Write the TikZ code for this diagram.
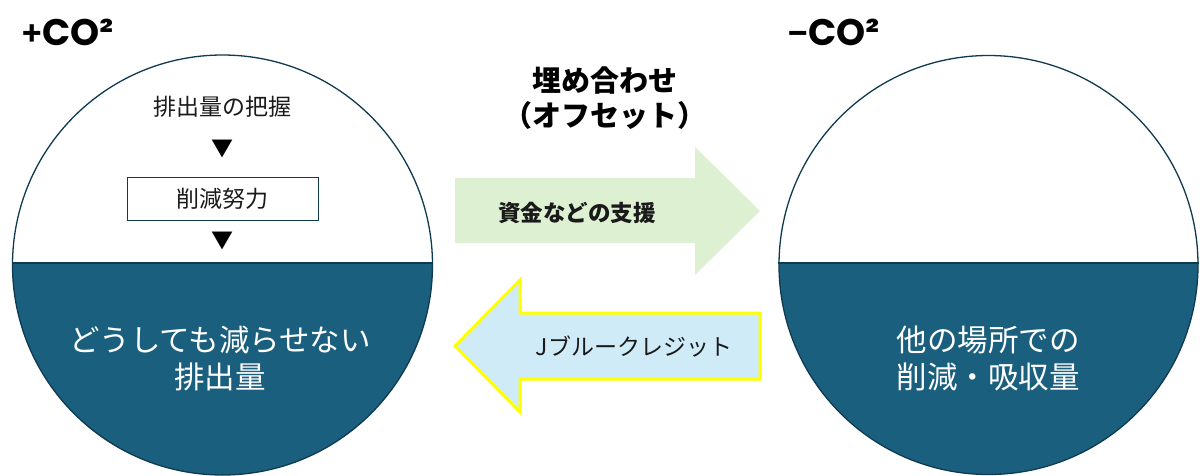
\documentclass[tikz,border=0pt]{standalone}
\usepackage{fontspec}
\setmainfont{Noto Sans CJK JP}
\newfontfamily\jp{Noto Sans CJK JP}
\newfontfamily\pop{Poppins}
\definecolor{darkteal}{HTML}{1B5F7E}
\definecolor{rimcol}{HTML}{0F3A50}
\definecolor{greenarr}{HTML}{DDF1D2}
\definecolor{bluearr}{HTML}{CFEBF8}
\definecolor{yellowrim}{HTML}{FFFF00}
\definecolor{txt}{HTML}{1A1A1A}
\begin{document}
\begin{tikzpicture}[x=1pt,y=-1pt,
  ball/.style={circle,minimum size=420pt,inner sep=0pt,draw=rimcol,line width=1.3pt},
  lab/.style={font=\jp\fontsize{23}{26}\selectfont,text=txt,inner sep=0pt},
  wlab/.style={font=\jp\fontsize{30.5}{37}\selectfont,text=white,align=center,inner sep=0pt},
  co/.style={font=\pop\bfseries\fontsize{37}{40}\selectfont,text=black,inner sep=0pt},
  tri/.style={font=\jp\fontsize{22}{22}\selectfont,inner sep=0pt,text=black},
  titl/.style={font=\jp\bfseries\fontsize{29}{35}\selectfont,align=center,inner sep=0pt}]
\useasboundingbox (0,0) rectangle (1200,475);
\fill[white] (0,0) rectangle (1200,475);
% dark lower halves
\begin{scope}
\clip (0,263) rectangle (1200,480);
\fill[darkteal] (222.5,265) circle (210);
\fill[darkteal] (988.5,265) circle (209.5);
\end{scope}
\node[ball] (L) at (222.5,265) {};
\node[ball,minimum size=419pt] (R) at (988.5,265) {};
\draw[rimcol,line width=1.3pt] (L.west |- 0,263) coordinate (la) -- (L.east |- 0,263) coordinate (lb);
\draw[rimcol,line width=1.3pt] (R.west |- 0,263) coordinate (ra) -- (R.east |- 0,263) coordinate (rb);
% labels
\node[co,anchor=west] (pco) at (22,32) {{\jp\fontsize{32}{32}\selectfont +}\hspace{1pt}CO²};
\node[co,anchor=west] (mco) at (788,32) {{\jp\fontsize{32}{32}\selectfont −}\hspace{1pt}CO²};
\node[lab] (t1) at (222,107) {排出量の把握};
\node[tri] (a1) at (222,149) {▼};
\node[lab,draw=rimcol,line width=1pt,minimum width=191pt,minimum height=43pt] (box) at (222.5,198.5) {削減努力};
\node[tri] (a2) at (222,241) {▼};
\node[wlab] (lt) at (220,358) {どうしても減らせない\\排出量};
\node[wlab] (rt) at (988,358) {他の場所での\\削減・吸収量};
\node[titl] (mid) at (605,98) {埋め合わせ\\（オフセット）};
% green arrow
\fill[greenarr] (455,178) -- (695,178) -- (695,147) -- (760,211) -- (695,275) -- (695,243) -- (455,243) -- cycle;
\node[lab,font=\jp\bfseries\fontsize{22.5}{24}\selectfont] (g) at (577,213) {資金などの支援};
% blue arrow
\draw[fill=bluearr,draw=yellowrim,line width=3pt,line join=miter] (760,313) -- (520,313) -- (520,280) -- (455,346) -- (520,412) -- (520,379) -- (760,379) -- cycle;
\node[lab] (b) at (634,346) {Jブルークレジット};
\end{tikzpicture}
\end{document}
